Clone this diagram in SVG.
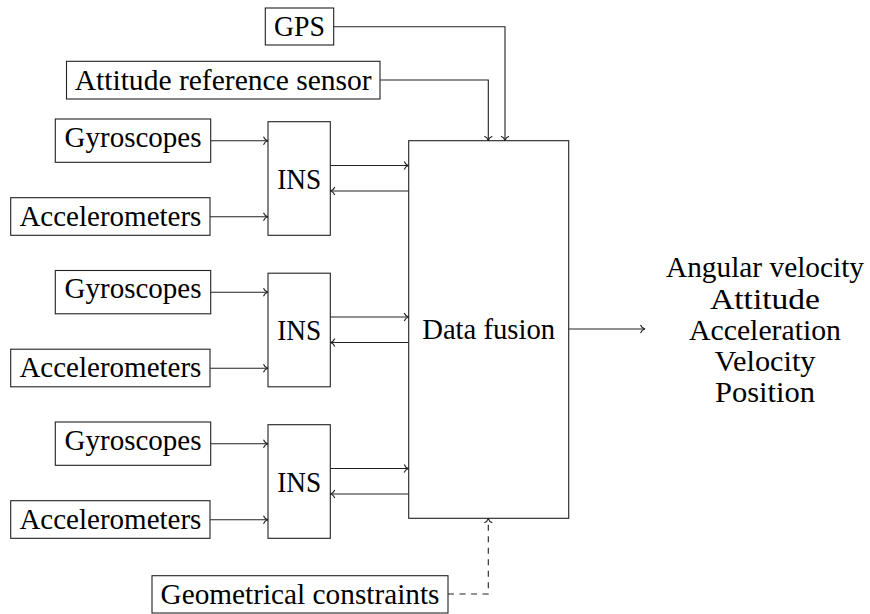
<svg xmlns="http://www.w3.org/2000/svg" width="870" height="614" viewBox="0 0 870 614">
<style>
  .box { fill: #ffffff; stroke: #222222; stroke-width: 1.1; }
  .lbl { font-family: 'Liberation Serif', 'DejaVu Serif', serif; font-size: 28.5px; fill: #000000; text-anchor: middle; }
  .conn { fill: none; stroke: #222222; stroke-width: 1.1; }
  .dash { stroke-dasharray: 6 5.5; }
</style>
<defs>
  <marker id="to" viewBox="-6 -6 8 12" markerWidth="8" markerHeight="12" refX="0" refY="0" orient="auto" markerUnits="userSpaceOnUse" overflow="visible">
    <path d="M-4.5,-4 C-3.6,-1.6 -1.6,-0.4 0,0 C-1.6,0.4 -3.6,1.6 -4.5,4" fill="none" stroke="#222222" stroke-width="1.1" stroke-dasharray="none"/>
  </marker>
</defs>
<rect width="870" height="614" fill="#ffffff"/>

<g id="gps">
  <rect class="box" x="265.3" y="8" width="68.4" height="37"/>
  <text class="lbl" x="299.5" y="36" textLength="51" lengthAdjust="spacingAndGlyphs">GPS</text>
</g>
<g id="attitude-sensor">
  <rect class="box" x="66.5" y="61.3" width="313.5" height="37.7"/>
  <text class="lbl" x="223.2" y="89.7" textLength="297" lengthAdjust="spacingAndGlyphs">Attitude reference sensor</text>
</g>

<g id="gyro1">
  <rect class="box" x="55.3" y="119" width="155.4" height="43.3"/>
  <text class="lbl" x="133" y="146.7" textLength="137" lengthAdjust="spacingAndGlyphs">Gyroscopes</text>
</g>
<g id="accel1">
  <rect class="box" x="10.7" y="197.7" width="199.3" height="37.6"/>
  <text class="lbl" x="110.4" y="225.7" textLength="182" lengthAdjust="spacingAndGlyphs">Accelerometers</text>
</g>
<g id="ins1">
  <rect class="box" x="268" y="121.7" width="62.3" height="113.6"/>
  <text class="lbl" x="299.2" y="188.5" textLength="44" lengthAdjust="spacingAndGlyphs">INS</text>
</g>

<g id="gyro2">
  <rect class="box" x="55.3" y="270.5" width="155.4" height="43.3"/>
  <text class="lbl" x="133" y="298.2" textLength="137" lengthAdjust="spacingAndGlyphs">Gyroscopes</text>
</g>
<g id="accel2">
  <rect class="box" x="10.7" y="349.2" width="199.3" height="37.6"/>
  <text class="lbl" x="110.4" y="377.2" textLength="182" lengthAdjust="spacingAndGlyphs">Accelerometers</text>
</g>
<g id="ins2">
  <rect class="box" x="268" y="273.2" width="62.3" height="113.6"/>
  <text class="lbl" x="299.2" y="340" textLength="44" lengthAdjust="spacingAndGlyphs">INS</text>
</g>

<g id="gyro3">
  <rect class="box" x="55.3" y="422" width="155.4" height="43.3"/>
  <text class="lbl" x="133" y="449.7" textLength="137" lengthAdjust="spacingAndGlyphs">Gyroscopes</text>
</g>
<g id="accel3">
  <rect class="box" x="10.7" y="500.7" width="199.3" height="37.6"/>
  <text class="lbl" x="110.4" y="528.7" textLength="182" lengthAdjust="spacingAndGlyphs">Accelerometers</text>
</g>
<g id="ins3">
  <rect class="box" x="268" y="424.7" width="62.3" height="113.6"/>
  <text class="lbl" x="299.2" y="491.5" textLength="44" lengthAdjust="spacingAndGlyphs">INS</text>
</g>

<g id="data-fusion">
  <rect class="box" x="408.7" y="140.7" width="160" height="377.6"/>
  <text class="lbl" x="488.7" y="339" textLength="133" lengthAdjust="spacingAndGlyphs">Data fusion</text>
</g>

<g id="geometrical-constraints">
  <rect class="box" x="152" y="575.7" width="296" height="37.3"/>
  <text class="lbl" x="300" y="603.8" textLength="279" lengthAdjust="spacingAndGlyphs">Geometrical constraints</text>
</g>

<g id="outputs">
  <text class="lbl" x="765" y="277" textLength="198" lengthAdjust="spacingAndGlyphs">Angular velocity</text>
  <text class="lbl" x="765" y="308.5" textLength="110" lengthAdjust="spacingAndGlyphs">Attitude</text>
  <text class="lbl" x="765" y="340" textLength="152" lengthAdjust="spacingAndGlyphs">Acceleration</text>
  <text class="lbl" x="765" y="371" textLength="101" lengthAdjust="spacingAndGlyphs">Velocity</text>
  <text class="lbl" x="765" y="402" textLength="100" lengthAdjust="spacingAndGlyphs">Position</text>
</g>

<g id="connectors">
  <path class="conn" d="M333.7,26.7 H505 V140.7" marker-end="url(#to)"/>
  <path class="conn" d="M380,80 H488.3 V140.7" marker-end="url(#to)"/>

  <path class="conn" d="M210.7,140.7 H268" marker-end="url(#to)"/>
  <path class="conn" d="M210,216.7 H268" marker-end="url(#to)"/>
  <path class="conn" d="M330.3,165.5 H408.7" marker-end="url(#to)"/>
  <path class="conn" d="M408.7,191 H330.3" marker-end="url(#to)"/>

  <path class="conn" d="M210.7,292.2 H268" marker-end="url(#to)"/>
  <path class="conn" d="M210,368.2 H268" marker-end="url(#to)"/>
  <path class="conn" d="M330.3,317 H408.7" marker-end="url(#to)"/>
  <path class="conn" d="M408.7,342.5 H330.3" marker-end="url(#to)"/>

  <path class="conn" d="M210.7,443.7 H268" marker-end="url(#to)"/>
  <path class="conn" d="M210,519.7 H268" marker-end="url(#to)"/>
  <path class="conn" d="M330.3,468.5 H408.7" marker-end="url(#to)"/>
  <path class="conn" d="M408.7,494 H330.3" marker-end="url(#to)"/>

  <path class="conn" d="M568.7,329 H645" marker-end="url(#to)"/>
  <path class="conn dash" d="M448,594 H488.3 V518.3" marker-end="url(#to)"/>
</g>
</svg>
